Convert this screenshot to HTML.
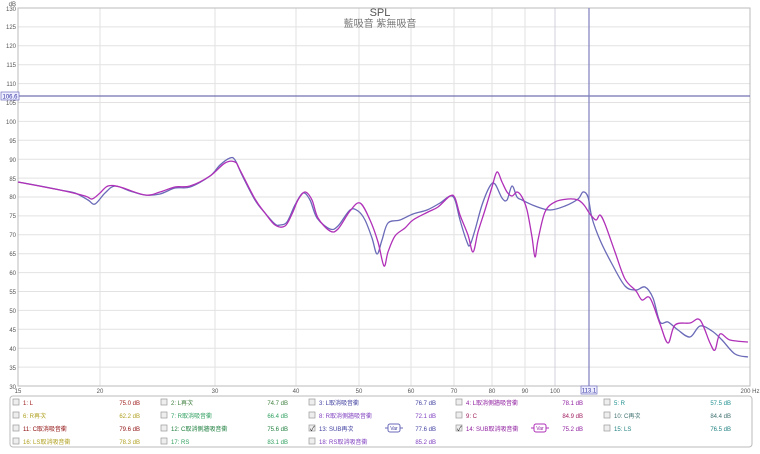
<!DOCTYPE html><html><head><style>body{margin:0;background:#fff;width:760px;height:449px;overflow:hidden;font-family:"Liberation Sans","Noto Sans CJK TC",sans-serif}</style></head><body>
<svg width="760" height="449" xmlns="http://www.w3.org/2000/svg" font-family="Liberation Sans, Noto Sans CJK TC, sans-serif">
<rect width="760" height="449" fill="#fff"/>
<g stroke="#e2e2e2" stroke-width="1">
<line x1="18" y1="26.9" x2="750" y2="26.9"/><line x1="18" y1="45.8" x2="750" y2="45.8"/><line x1="18" y1="64.7" x2="750" y2="64.7"/><line x1="18" y1="83.6" x2="750" y2="83.6"/><line x1="18" y1="102.5" x2="750" y2="102.5"/><line x1="18" y1="121.4" x2="750" y2="121.4"/><line x1="18" y1="140.3" x2="750" y2="140.3"/><line x1="18" y1="159.2" x2="750" y2="159.2"/><line x1="18" y1="178.1" x2="750" y2="178.1"/><line x1="18" y1="197" x2="750" y2="197"/><line x1="18" y1="215.9" x2="750" y2="215.9"/><line x1="18" y1="234.8" x2="750" y2="234.8"/><line x1="18" y1="253.7" x2="750" y2="253.7"/><line x1="18" y1="272.6" x2="750" y2="272.6"/><line x1="18" y1="291.5" x2="750" y2="291.5"/><line x1="18" y1="310.4" x2="750" y2="310.4"/><line x1="18" y1="329.3" x2="750" y2="329.3"/><line x1="18" y1="348.2" x2="750" y2="348.2"/><line x1="18" y1="367.1" x2="750" y2="367.1"/>
<line x1="100" y1="8" x2="100" y2="386"/><line x1="215" y1="8" x2="215" y2="386"/><line x1="296" y1="8" x2="296" y2="386"/><line x1="359" y1="8" x2="359" y2="386"/><line x1="411" y1="8" x2="411" y2="386"/><line x1="454" y1="8" x2="454" y2="386"/><line x1="492" y1="8" x2="492" y2="386"/><line x1="525" y1="8" x2="525" y2="386"/><line x1="555" y1="8" x2="555" y2="386" stroke="#d0d0dc"/>
</g>
<rect x="18" y="8" width="732" height="378" fill="none" stroke="#bbb"/>
<line x1="18" y1="96" x2="750" y2="96" stroke="#7070b0" stroke-width="1.2"/>
<line x1="589" y1="8" x2="589" y2="386" stroke="#8080c0" stroke-width="1.2"/>
<text x="380" y="16" font-size="11" fill="#555" text-anchor="middle">SPL</text>
<text x="380" y="27" font-size="10" fill="#777" text-anchor="middle">藍吸音 紫無吸音</text>
<g font-size="6" fill="#555" text-anchor="end">
<text x="16" y="6">dB</text><text x="16" y="11">130</text><text x="16" y="29">125</text><text x="16" y="48">120</text><text x="16" y="67">115</text><text x="16" y="86">110</text><text x="16" y="105">105</text><text x="16" y="124">100</text><text x="16" y="143">95</text><text x="16" y="162">90</text><text x="16" y="181">85</text><text x="16" y="199">80</text><text x="16" y="218">75</text><text x="16" y="237">70</text><text x="16" y="256">65</text><text x="16" y="275">60</text><text x="16" y="294">55</text><text x="16" y="313">50</text><text x="16" y="332">45</text><text x="16" y="351">40</text><text x="16" y="370">35</text><text x="16" y="389">30</text>
</g>
<rect x="1" y="92" width="18" height="8" fill="#eef" stroke="#7070c0" stroke-width="0.7"/><text x="10" y="98.5" font-size="6" fill="#3030a0" text-anchor="middle">106.6</text>
<g font-size="6" fill="#555" text-anchor="middle">
<text x="18" y="393">15</text><text x="100" y="393">20</text><text x="215" y="393">30</text><text x="296" y="393">40</text><text x="359" y="393">50</text><text x="411" y="393">60</text><text x="454" y="393">70</text><text x="492" y="393">80</text><text x="525" y="393">90</text><text x="555" y="393">100</text><text x="750" y="393">200 Hz</text>
</g>
<rect x="581" y="386" width="16" height="8" fill="#eef" stroke="#7070c0" stroke-width="0.7"/><text x="589" y="392.5" font-size="6" fill="#3030a0" text-anchor="middle">113.1</text>
<path id="pb" fill="none" stroke="#6a6ab8" stroke-width="1.3" data-p="18,182 40,186 60,190 75,193 88,200 95,204 105,193 115,186 130,191 145,195 160,194 175,188 190,187 210,176 220,165 230,158 235,160 242,175 255,200 265,213 275,224 280,225 287,222 295,205 303,193 310,200 317,218 330,229 338,226 350,210 358,211 365,220 372,238 377,254 382,240 388,223 400,220 413,214 427,210 440,203 450,196 455,200 460,220 467,242 470,245 475,230 482,205 490,186 495,184 502,198 507,200 512,186 517,197 522,200 535,206 550,210 565,206 578,199 583,192 588,197 592,218 600,240 612,264 625,286 636,290 645,287 653,298 660,322 668,322 678,330 690,337 700,326 712,331 722,340 735,354 748,357"/>
<path id="pm" fill="none" stroke="#b030b8" stroke-width="1.3" data-p="18,182 60,190 85,196 92,199 100,193 108,186 120,187 145,195 160,192 175,187 190,186 210,176 225,163 235,162 240,170 255,199 265,213 275,225 285,226 292,214 298,200 305,192 312,200 318,218 330,231 338,229 350,211 360,203 370,220 378,242 384,266 388,252 395,236 405,228 413,220 428,212 438,207 450,196 455,198 460,215 468,235 473,252 478,232 485,210 492,187 497,172 502,182 507,192 512,196 517,192 522,197 527,210 532,237 535,257 538,240 545,212 555,202 568,199 578,200 584,205 590,214 596,220 600,215 605,224 615,252 625,279 636,291 642,300 650,298 660,324 668,343 675,325 690,323 700,320 710,343 715,350 720,334 730,340 748,342"/>
<rect x="10" y="396" width="742" height="51" rx="3" fill="#fff" stroke="#bbb"/>
<g font-size="6">
<g fill="#eee" stroke="#999" stroke-width="0.7">
<rect x="13" y="399" width="6" height="6"/><rect x="161" y="399" width="6" height="6"/><rect x="309" y="399" width="6" height="6"/><rect x="456" y="399" width="6" height="6"/><rect x="604" y="399" width="6" height="6"/>
<rect x="13" y="412" width="6" height="6"/><rect x="161" y="412" width="6" height="6"/><rect x="309" y="412" width="6" height="6"/><rect x="456" y="412" width="6" height="6"/><rect x="604" y="412" width="6" height="6"/>
<rect x="13" y="425" width="6" height="6"/><rect x="161" y="425" width="6" height="6"/><rect x="309" y="425" width="6" height="6"/><rect x="456" y="425" width="6" height="6"/><rect x="604" y="425" width="6" height="6"/>
<rect x="13" y="438" width="6" height="6"/><rect x="161" y="438" width="6" height="6"/><rect x="309" y="438" width="6" height="6"/>
</g>
<text x="310" y="431" font-size="7" fill="#222">✓</text><text x="457" y="431" font-size="7" fill="#222">✓</text>
<text x="23" y="405" fill="#a02020">1: L</text><text x="140" y="405" fill="#a02020" text-anchor="end">75.0 dB</text>
<text x="171" y="405" fill="#408040">2: L再次</text><text x="288" y="405" fill="#408040" text-anchor="end">74.7 dB</text>
<text x="319" y="405" fill="#4040a0">3: L取消吸音衝</text><text x="436" y="405" fill="#4040a0" text-anchor="end">76.7 dB</text>
<text x="466" y="405" fill="#9020a0">4: L取消側牆吸音衝</text><text x="583" y="405" fill="#9020a0" text-anchor="end">78.1 dB</text>
<text x="614" y="405" fill="#209090">5: R</text><text x="731" y="405" fill="#209090" text-anchor="end">57.5 dB</text>
<text x="23" y="418" fill="#b0a020">6: R再次</text><text x="140" y="418" fill="#b0a020" text-anchor="end">62.2 dB</text>
<text x="171" y="418" fill="#30a060">7: R取消吸音衝</text><text x="288" y="418" fill="#30a060" text-anchor="end">66.4 dB</text>
<text x="319" y="418" fill="#8040c0">8: R取消側牆吸音衝</text><text x="436" y="418" fill="#8040c0" text-anchor="end">72.1 dB</text>
<text x="466" y="418" fill="#a02060">9: C</text><text x="583" y="418" fill="#a02060" text-anchor="end">84.9 dB</text>
<text x="614" y="418" fill="#407070">10: C再次</text><text x="731" y="418" fill="#407070" text-anchor="end">84.4 dB</text>
<text x="23" y="431" fill="#901010">11: C取消吸音衝</text><text x="140" y="431" fill="#901010" text-anchor="end">79.6 dB</text>
<text x="171" y="431" fill="#208040">12: C取消側牆吸音衝</text><text x="288" y="431" fill="#208040" text-anchor="end">75.6 dB</text>
<text x="319" y="431" fill="#4040a0">13: SUB再次</text><text x="436" y="431" fill="#4040a0" text-anchor="end">77.6 dB</text>
<text x="466" y="431" fill="#9020a0">14: SUB取消吸音衝</text><text x="583" y="431" fill="#9020a0" text-anchor="end">75.2 dB</text>
<text x="614" y="431" fill="#208080">15: LS</text><text x="731" y="431" fill="#208080" text-anchor="end">76.5 dB</text>
<text x="23" y="444" fill="#b0a020">16: LS取消吸音衝</text><text x="140" y="444" fill="#b0a020" text-anchor="end">78.3 dB</text>
<text x="171" y="444" fill="#30a060">17: RS</text><text x="288" y="444" fill="#30a060" text-anchor="end">83.1 dB</text>
<text x="319" y="444" fill="#8040c0">18: RS取消吸音衝</text><text x="436" y="444" fill="#8040c0" text-anchor="end">85.2 dB</text>
<g stroke="#6a6ab8" fill="#fff"><line x1="385" y1="428" x2="403" y2="428"/><rect x="388" y="424" width="12" height="8" rx="2"/></g><text x="394" y="430" fill="#4040a0" text-anchor="middle" font-size="5">Var</text>
<g stroke="#b030b8" fill="#fff"><line x1="531" y1="428" x2="549" y2="428"/><rect x="534" y="424" width="12" height="8" rx="2"/></g><text x="540" y="430" fill="#9020a0" text-anchor="middle" font-size="5">Var</text>
</g>
</svg>
<script>
["pb","pm"].forEach(function(id){var el=document.getElementById(id);var p=el.getAttribute("data-p").split(" ").map(function(s){return s.split(",").map(Number)});
var d="M"+p[0][0]+","+p[0][1];for(var i=0;i<p.length-1;i++){var a=p[i-1]||p[i],b=p[i],c=p[i+1],e=p[i+2]||c;
d+=" C"+(b[0]+(c[0]-a[0])/6)+","+(b[1]+(c[1]-a[1])/6)+" "+(c[0]-(e[0]-b[0])/6)+","+(c[1]-(e[1]-b[1])/6)+" "+c[0]+","+c[1];}
el.setAttribute("d",d);});
</script>
</body></html>
